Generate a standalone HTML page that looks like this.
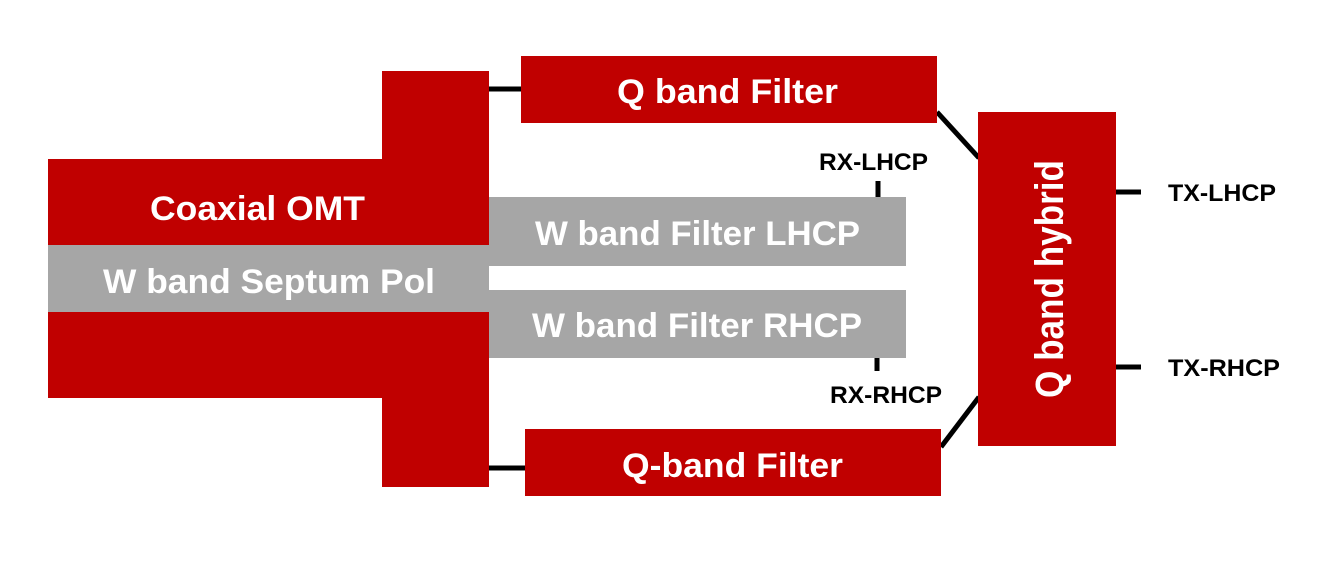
<!DOCTYPE html>
<html><head><meta charset="utf-8"><style>html,body{margin:0;padding:0;background:#fff}svg{display:block}</style></head>
<body>
<svg width="1321" height="568" viewBox="0 0 1321 568" xmlns="http://www.w3.org/2000/svg" font-family="Liberation Sans, sans-serif" font-weight="bold">
<rect width="1321" height="568" fill="#fff"/>
<!-- connectors -->
<g stroke="#000" stroke-width="5" fill="none">
<line x1="489" y1="89" x2="521" y2="89"/>
<line x1="489" y1="468" x2="525" y2="468"/>
<line x1="937" y1="112" x2="979" y2="158"/>
<line x1="941" y1="447" x2="979" y2="397"/>
<line x1="878" y1="181" x2="878" y2="198"/>
<line x1="877" y1="357" x2="877" y2="371"/>
<line x1="1116" y1="192" x2="1141" y2="192"/>
<line x1="1116" y1="367" x2="1141" y2="367"/>
</g>
<!-- OMT -->
<rect x="48" y="159" width="441" height="239" fill="#c00000"/>
<rect x="382" y="71" width="107" height="416" fill="#c00000"/>
<rect x="48" y="245" width="441" height="67" fill="#a6a6a6"/>
<rect x="489" y="197" width="417" height="69" fill="#a6a6a6"/>
<rect x="489" y="290" width="417" height="68" fill="#a6a6a6"/>
<rect x="521" y="56" width="416" height="67" fill="#c00000"/>
<rect x="525" y="429" width="416" height="67" fill="#c00000"/>
<rect x="978" y="112" width="138" height="334" fill="#c00000"/>
<g fill="#fff" font-size="34">
<text x="617" y="103" textLength="221" lengthAdjust="spacingAndGlyphs">Q band Filter</text>
<text x="150" y="220" textLength="215" lengthAdjust="spacingAndGlyphs">Coaxial OMT</text>
<text x="103" y="293" textLength="332" lengthAdjust="spacingAndGlyphs">W band Septum Pol</text>
<text x="535" y="245" textLength="325" lengthAdjust="spacingAndGlyphs">W band Filter LHCP</text>
<text x="532" y="337" textLength="330" lengthAdjust="spacingAndGlyphs">W band Filter RHCP</text>
<text x="622" y="477" textLength="221" lengthAdjust="spacingAndGlyphs">Q-band Filter</text>
<text transform="translate(1063,398) rotate(-90)" x="0" y="0" font-size="40" textLength="238" lengthAdjust="spacingAndGlyphs">Q band hybrid</text>
</g>
<g fill="#000" font-size="24">
<text x="819" y="170" textLength="109" lengthAdjust="spacingAndGlyphs">RX-LHCP</text>
<text x="830" y="403" textLength="112" lengthAdjust="spacingAndGlyphs">RX-RHCP</text>
<text x="1168" y="201" textLength="108" lengthAdjust="spacingAndGlyphs">TX-LHCP</text>
<text x="1168" y="376" textLength="112" lengthAdjust="spacingAndGlyphs">TX-RHCP</text>
</g>
</svg>
</body></html>
